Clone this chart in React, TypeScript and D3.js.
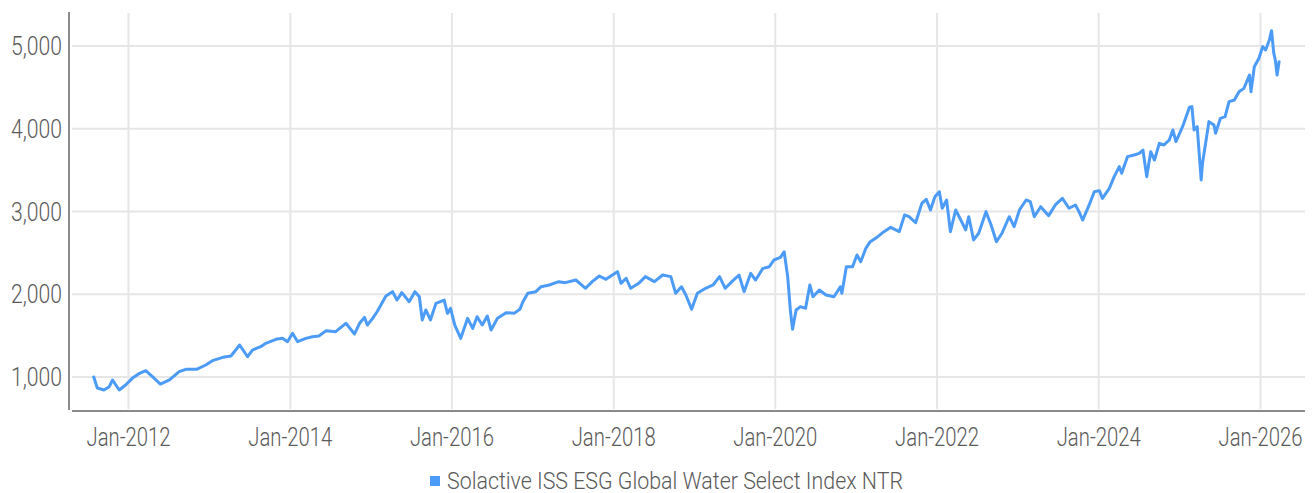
import React from "react";
import * as d3 from "d3";

const seriesName = "Solactive ISS ESG Global Water Select Index NTR";

const dates: string[] = [
  "2011-07-28","2011-08-13","2011-09-12","2011-10-06","2011-10-21","2011-11-20","2011-12-19",
  "2012-01-18","2012-02-20","2012-03-19","2012-04-18","2012-05-24","2012-07-04","2012-08-17","2012-09-16","2012-11-03","2012-12-15",
  "2013-01-14","2013-03-02","2013-04-08","2013-05-17","2013-06-22","2013-07-14","2013-08-20","2013-09-12","2013-10-28","2013-11-27","2013-12-19",
  "2014-01-11","2014-02-03","2014-03-12","2014-04-11","2014-05-10","2014-06-12","2014-07-25","2014-09-09","2014-10-18","2014-11-10","2014-12-02","2014-12-15",
  "2015-01-08","2015-01-28","2015-03-09","2015-04-08","2015-04-28","2015-05-20","2015-06-22","2015-07-18","2015-08-07","2015-08-20","2015-09-05","2015-09-26","2015-10-21","2015-11-27","2015-12-12","2015-12-26",
  "2016-01-14","2016-02-10","2016-03-12","2016-04-04","2016-04-24","2016-05-17","2016-06-09","2016-06-26","2016-07-25","2016-09-02","2016-10-08","2016-11-03","2016-11-17","2016-12-09",
  "2017-01-14","2017-02-07","2017-03-16","2017-04-28","2017-05-27","2017-07-14","2017-08-27","2017-09-26","2017-10-28","2017-11-27","2017-12-26",
  "2018-01-18","2018-02-03","2018-02-26","2018-03-19","2018-04-24","2018-05-24","2018-07-04","2018-08-10","2018-09-16","2018-10-08","2018-11-03","2018-11-23","2018-12-19",
  "2019-01-14","2019-02-20","2019-03-26","2019-04-24","2019-05-20","2019-06-19","2019-07-21","2019-08-13","2019-09-12","2019-10-04","2019-11-06","2019-12-05","2019-12-26",
  "2020-01-24","2020-02-10","2020-02-26","2020-03-09","2020-03-19","2020-04-04","2020-04-24","2020-05-17","2020-06-05","2020-06-19","2020-07-18","2020-08-17","2020-09-22","2020-10-21","2020-10-28","2020-11-17","2020-12-15",
  "2021-01-04","2021-01-21","2021-02-13","2021-03-05","2021-04-08","2021-05-06","2021-06-05","2021-07-14","2021-08-07","2021-08-27","2021-09-26","2021-10-24","2021-11-13","2021-12-02","2021-12-22",
  "2022-01-11","2022-01-24","2022-02-13","2022-03-02","2022-03-26","2022-04-18","2022-05-10","2022-05-24","2022-06-15","2022-07-08","2022-08-10","2022-09-02","2022-09-26","2022-10-21","2022-11-23","2022-12-15",
  "2023-01-08","2023-02-07","2023-02-26","2023-03-16","2023-04-14","2023-05-20","2023-06-19","2023-07-21","2023-08-20","2023-09-18","2023-10-04","2023-10-21","2023-11-19","2023-12-12",
  "2024-01-04","2024-01-18","2024-02-18","2024-03-11","2024-04-03","2024-04-14","2024-05-10","2024-06-09","2024-07-02","2024-07-19","2024-08-05","2024-08-23","2024-09-09","2024-10-01","2024-10-22","2024-11-15","2024-12-01","2024-12-15",
  "2025-01-14","2025-02-14","2025-02-25","2025-03-07","2025-03-21","2025-04-08","2025-04-14","2025-04-28","2025-05-13","2025-06-05","2025-06-12","2025-07-04","2025-07-25","2025-08-12","2025-09-05","2025-09-26","2025-10-18","2025-11-12","2025-11-19","2025-12-04","2025-12-25",
  "2026-01-11","2026-01-24","2026-02-10","2026-02-20","2026-03-02","2026-03-09","2026-03-17","2026-03-26"
];

const values: number[] = [
  1000,867,843,883,964,843,903,
  984,1045,1076,1004,915,964,1064,1093,1093,1145,
  1197,1238,1254,1387,1245,1326,1366,1407,1455,1467,1427,
  1528,1427,1467,1487,1495,1560,1548,1649,1520,1649,1721,1628,
  1709,1789,1979,2031,1930,2019,1910,2031,1970,1689,1810,1689,1890,1930,1769,1830,
  1628,1467,1709,1588,1729,1628,1737,1568,1709,1777,1769,1818,1910,2011,
  2031,2091,2112,2152,2140,2172,2072,2152,2221,2180,2233,
  2273,2132,2193,2072,2132,2213,2152,2233,2213,2011,2091,1991,1818,
  2011,2072,2112,2213,2072,2152,2233,2031,2253,2172,2313,2333,2414,
  2446,2514,2213,1810,1576,1810,1850,1830,2112,1970,2051,1991,1970,2091,2011,2333,2333,
  2474,2393,2555,2635,2696,2756,2809,2756,2958,2937,2865,3098,3147,3018,3179,
  3239,3039,3139,2756,3018,2897,2777,2937,2656,2737,2998,2837,2635,2737,2937,2817,
  3018,3139,3119,2937,3058,2950,3079,3159,3039,3079,2998,2897,3079,3239,
  3252,3159,3280,3421,3542,3461,3663,3683,3703,3743,3421,3723,3622,3824,3804,3864,3985,3844,
  4025,4259,4267,3985,4025,3381,3582,3824,4086,4045,3945,4126,4146,4327,4348,4448,4488,4650,4448,4750,4851,
  4992,4952,5073,5185,4910,4831,4650,4810
];

const yTicks: number[] = [1000, 2000, 3000, 4000, 5000];
const xTickYears: number[] = [2012, 2014, 2016, 2018, 2020, 2022, 2024, 2026];

const W = 1314;
const H = 493;
const FONT = "Roboto, 'Noto Sans', sans-serif";
const LINE_COLOR = "#4c9bf6";
const TEXT_COLOR = "#5a5a5a";

export default function App() {
  const parse = d3.timeParse("%Y-%m-%d");
  const n = Math.min(dates.length, values.length);
  const data = d3.range(n).map((i) => ({ d: parse(dates[i]) as Date, v: values[i] }));

  const plotLeft = 72;
  const plotRight = 1305;
  const plotTop = 12;
  const plotBottom = 410;

  const x = d3
    .scaleTime()
    .domain([new Date(2012, 0, 1), new Date(2026, 0, 1)])
    .range([128.5, 1260.5]);
  const y = d3.scaleLinear().domain([1000, 5000]).range([377, 46]);

  const line = d3
    .line<{ d: Date; v: number }>()
    .x((p) => x(p.d))
    .y((p) => y(p.v));

  const fmt = d3.format(",");
  const yLabelW = 51;
  const xLabelW = 84;

  return (
    <svg
      width={W}
      height={H}
      style={{ position: "absolute", left: 0, top: 0, background: "#fff" }}
      fontFamily={FONT}
    >
      {yTicks.map((t) => (
        <line key={"gy" + t} x1={plotLeft} x2={plotRight} y1={y(t)} y2={y(t)} stroke="#e6e6e6" strokeWidth={2} />
      ))}
      {xTickYears.map((yr) => {
        const px = x(new Date(yr, 0, 1));
        return <line key={"gx" + yr} x1={px} x2={px} y1={13} y2={409} stroke="#e6e6e6" strokeWidth={2} />;
      })}
      <line x1={69} x2={69} y1={plotTop} y2={plotBottom} stroke="#8a8a8a" strokeWidth={2} />
      <line x1={plotLeft} x2={plotRight} y1={411} y2={411} stroke="#8a8a8a" strokeWidth={2} />
      {yTicks.map((t) => (
        <text
          key={"ly" + t}
          x={62 - yLabelW}
          y={y(t)}
          dy="0.36em"
          fontSize={25}
          fontWeight={300}
          fill={TEXT_COLOR}
          textLength={yLabelW}
          lengthAdjust="spacingAndGlyphs"
        >
          {fmt(t)}
        </text>
      ))}
      {xTickYears.map((yr) => (
        <text
          key={"lx" + yr}
          x={x(new Date(yr, 0, 1)) - xLabelW / 2}
          y={446}
          fontSize={25}
          fontWeight={300}
          fill={TEXT_COLOR}
          textLength={xLabelW}
          lengthAdjust="spacingAndGlyphs"
        >
          {"Jan-" + yr}
        </text>
      ))}
      <path
        d={line(data) || ""}
        fill="none"
        stroke={LINE_COLOR}
        strokeWidth={3}
        strokeLinejoin="round"
        strokeLinecap="round"
      />
      <rect x={430} y={476} width={10} height={10} fill={LINE_COLOR} />
      <text
        x={447}
        y={489}
        fontSize={24}
        fontWeight={300}
        fill={TEXT_COLOR}
        textLength={456}
        lengthAdjust="spacingAndGlyphs"
      >
        {seriesName}
      </text>
    </svg>
  );
}
